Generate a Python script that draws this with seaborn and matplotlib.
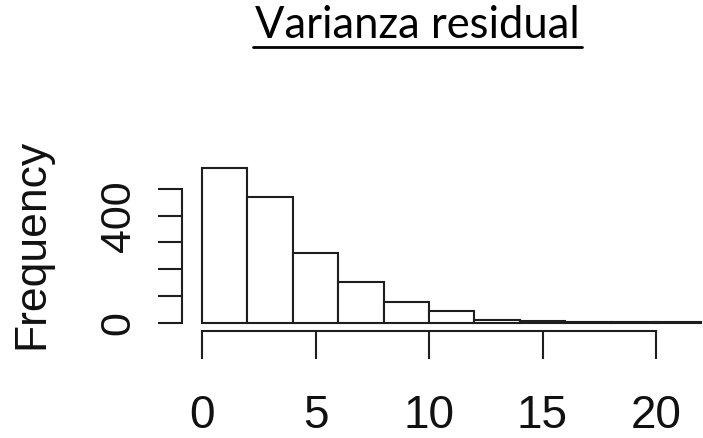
import matplotlib
matplotlib.use("Agg")
import matplotlib.pyplot as plt
from matplotlib.lines import Line2D
import numpy as np
import seaborn as sns

# Histogram of residual variance: bin edges and counts per bin
bin_edges = [0, 2, 4, 6, 8, 10, 12, 14, 16, 18, 20, 22]
counts = [577, 471, 261, 152, 78, 44, 9, 6, 2, 1, 1]
x_ticks = [0, 5, 10, 15, 20]
y_ticks = [0, 100, 200, 300, 400, 500]
y_tick_labels = ["0", "", "", "", "400", ""]
title = "Varianza residual"
y_label = "Frequency"

sns.set_style("white")
plt.rcParams["font.family"] = ["Liberation Sans", "DejaVu Sans"]

W, H, DPI = 703, 439, 100
fig = plt.figure(figsize=(W / DPI, H / DPI), dpi=DPI)

# axes box in pixels (left, top of figure origin)
ax_left, ax_right = 181.7, 703.0
ax_top, ax_bottom = 150.0, 332.0
ax = fig.add_axes([ax_left / W, 1 - ax_bottom / H,
                   (ax_right - ax_left) / W, (ax_bottom - ax_top) / H])

centers = [(a + b) / 2 for a, b in zip(bin_edges[:-1], bin_edges[1:])]
sns.histplot(x=centers, weights=counts, bins=bin_edges, stat="count",
             color="white", edgecolor="#1e1e1e", linewidth=1.5, alpha=1,
             ax=ax)

px_per_unit_x = 22.7
px_per_count = 0.2675
zero_y = 323.5
ax.set_xlim(-(202.0 - ax_left) / px_per_unit_x,
            (ax_right - 202.0) / px_per_unit_x)
ax.set_ylim(-(ax_bottom - zero_y) / px_per_count,
            (zero_y - ax_top) / px_per_count)

for s in ("top", "right"):
    ax.spines[s].set_visible(False)
for s in ("left", "bottom"):
    ax.spines[s].set_linewidth(1.5)
    ax.spines[s].set_color("#1e1e1e")
ax.spines["left"].set_bounds(0, 500)
ax.spines["bottom"].set_bounds(0, 20)

ax.set_xticks(x_ticks)
ax.set_xticklabels([str(t) for t in x_ticks])
ax.set_yticks(y_ticks)
ax.set_yticklabels(y_tick_labels, rotation=90, va="center")
ax.tick_params(axis="x", bottom=True, direction="out", length=20, width=1.5,
               color="#1e1e1e", pad=25, labelsize=33, labelcolor="#111111")
ax.tick_params(axis="y", left=True, direction="out", length=17, width=1.5,
               color="#1e1e1e", pad=14, labelsize=31, labelcolor="#111111")
ax.set_xlabel("")
ax.set_ylabel("")

fig.text(32 / W, 1 - 244 / H, y_label, rotation=90, ha="center", va="center",
         fontsize=32, color="#111111")

# Title with underline, sized to span its measured width
t_left, t_right, t_base = 255.0, 579.0, 38.0
ttl = fig.text((t_left + t_right) / 2 / W, 1 - t_base / H, title,
               ha="center", va="baseline", fontsize=26, color="black",
               family=["Lato", "DejaVu Sans"])
fig.canvas.draw()
bb = ttl.get_window_extent()
ttl.set_fontsize(26 * (t_right - t_left) / bb.width)
fig.canvas.draw()
bb = ttl.get_window_extent()
uy = 1 - 48.0 / H
fig.add_artist(Line2D([(bb.x0 - 2) / W, (bb.x1 + 3) / W], [uy, uy],
                      transform=fig.transFigure, color="black", linewidth=2.0))

fig.savefig("out.png", dpi=DPI)
